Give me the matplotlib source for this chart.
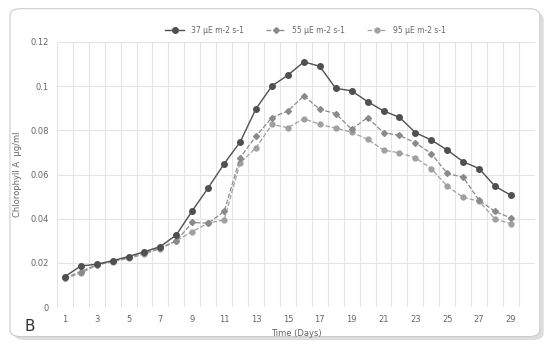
import matplotlib.pyplot as plt
from matplotlib.patches import FancyBboxPatch
from matplotlib.ticker import FuncFormatter

days = list(range(1, 30))
s37 = [0.0138, 0.0186, 0.0194, 0.0210, 0.0229, 0.0251, 0.0274, 0.0327, 0.0436, 0.0540,
       0.0649, 0.0747, 0.0898, 0.1001, 0.1050, 0.1110, 0.1090, 0.0990, 0.0979, 0.0930,
       0.0888, 0.0859, 0.0790, 0.0756, 0.0711, 0.0658, 0.0627, 0.0547, 0.0506]
s55 = [0.0133, 0.0160, 0.0192, 0.0208, 0.0225, 0.0245, 0.0268, 0.0300, 0.0383, 0.0380,
       0.0433, 0.0676, 0.0774, 0.0858, 0.0888, 0.0956, 0.0895, 0.0876, 0.0805, 0.0858,
       0.0790, 0.0777, 0.0744, 0.0695, 0.0605, 0.0588, 0.0483, 0.0433, 0.0403]
s95 = [0.0130, 0.0153, 0.0190, 0.0205, 0.0220, 0.0240, 0.0265, 0.0300, 0.0342, 0.0380,
       0.0395, 0.0653, 0.0721, 0.0827, 0.0812, 0.0853, 0.0827, 0.0810, 0.0792, 0.0759,
       0.0711, 0.0698, 0.0676, 0.0627, 0.0547, 0.0497, 0.0479, 0.0399, 0.0377]
labels = ['37 µE m-2 s-1', '55 µE m-2 s-1', '95 µE m-2 s-1']

fig = plt.figure(figsize=(5.52, 3.47), dpi=100)
# rounded frame with light shadow
fig.patches.append(FancyBboxPatch((0.025, 0.02), 0.96, 0.945, boxstyle="round,pad=0,rounding_size=0.02",
                                  transform=fig.transFigure, fc='#dddddd', ec='none', zorder=-2))
fig.patches.append(FancyBboxPatch((0.018, 0.03), 0.96, 0.945, boxstyle="round,pad=0,rounding_size=0.02",
                                  transform=fig.transFigure, fc='white', ec='#cccccc', lw=0.8, zorder=-1))

ax = fig.add_axes([0.103, 0.115, 0.866, 0.764])
ax.set_zorder(2)
ax.set_facecolor('none')
ax.plot(days, s37, '-o', color='#505050', ms=4, lw=1.0, label=labels[0], zorder=5)
ax.plot(days, s55, '--D', color='#8a8a8a', ms=3, lw=0.9, label=labels[1], zorder=4)
ax.plot(days, s95, '--o', color='#a0a0a0', ms=3.5, lw=0.9, label=labels[2], zorder=3)

ax.set_xlim(0.5, 30.5)
ax.set_ylim(0, 0.12)
ax.set_xticks(range(1, 30, 2))
ax.set_xticks([d + 0.5 for d in range(0, 30)], minor=True)
ax.set_yticks([0, 0.02, 0.04, 0.06, 0.08, 0.1, 0.12])
ax.yaxis.set_major_formatter(FuncFormatter(lambda v, p: '%g' % v))
ax.grid(True, which='minor', axis='x', color='#e4e4e4', lw=0.8)
ax.grid(True, which='major', axis='y', color='#e4e4e4', lw=0.8)
ax.tick_params(which='both', length=0, labelsize=6, colors='#666666', pad=6)
for sp in ax.spines.values():
    sp.set_visible(False)

ax.set_xlabel('Time (Days)', fontsize=6, color='#666666', labelpad=3)
ax.set_ylabel('Chlorophyll A  µg/ml', fontsize=6, color='#666666', labelpad=6)

ax.legend(loc='lower center', bbox_to_anchor=(0.52, 1.0), ncol=3, frameon=False,
          fontsize=5.5, labelcolor='#666666', handlelength=2.5, columnspacing=3)

fig.text(0.045, 0.045, 'B', fontsize=11, color='#333333')

fig.savefig('out.png', dpi=100)
